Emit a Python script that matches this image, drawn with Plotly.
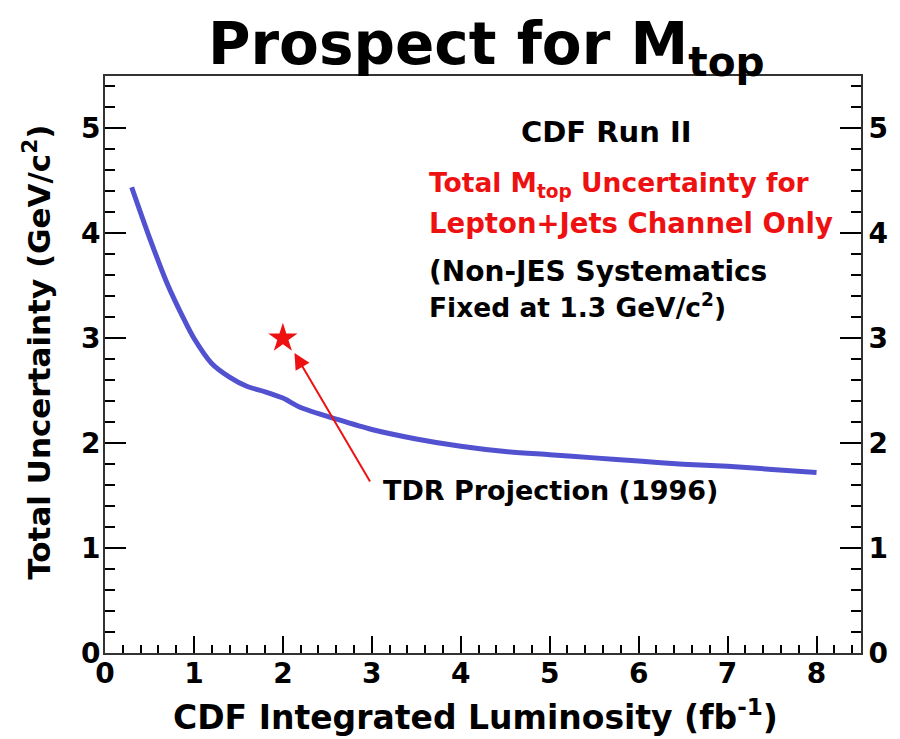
import plotly.graph_objects as go

# Projected total top-mass uncertainty vs. integrated luminosity
lumi = [0.3, 0.5, 0.7, 0.9, 1.0, 1.2, 1.4, 1.6, 1.8, 2.0, 2.2, 2.6, 3.0,
        3.5, 4.0, 4.5, 5.0, 5.5, 6.0, 6.5, 7.0, 7.5, 8.0]
uncert = [4.44, 3.96, 3.52, 3.16, 3.00, 2.76, 2.63, 2.54, 2.49, 2.43, 2.34,
          2.23, 2.13, 2.04, 1.97, 1.92, 1.89, 1.86, 1.83, 1.80, 1.78, 1.75, 1.72]

# TDR projection point (1996)
tdr_lumi = [2.0]
tdr_uncert = [3.0]

x_ticks = [0, 1, 2, 3, 4, 5, 6, 7, 8]
y_ticks = [0, 1, 2, 3, 4, 5]

FONT = "DejaVu Sans"
RED = "#ee1111"
tickfont = dict(family=FONT, size=28, color="black", weight="bold")

fig = go.Figure()

fig.add_trace(go.Scatter(
    x=lumi, y=uncert, mode="lines",
    line=dict(color="#5252d0", width=5, shape="spline", smoothing=0.8),
    showlegend=False, hoverinfo="skip",
))
fig.add_trace(go.Scatter(
    x=tdr_lumi, y=tdr_uncert, mode="markers",
    marker=dict(symbol="star", size=22, color=RED, line=dict(width=0)),
    showlegend=False, hoverinfo="skip",
))
# invisible trace to carry the right-hand axis
fig.add_trace(go.Scatter(
    x=[0], y=[0], yaxis="y2", mode="markers",
    marker=dict(opacity=0), showlegend=False, hoverinfo="skip",
))

annotations = [
    dict(text="<b>Prospect for M<sub>top</sub></b>", xref="paper", yref="paper",
         x=0.505, y=1.0, yanchor="bottom", xanchor="center", yshift=-12,
         showarrow=False, font=dict(family=FONT, size=58, color="black")),
    dict(text="<b>Total Uncertainty (GeV/c<sup>2</sup>)</b>", xref="paper", yref="paper",
         x=-0.09, y=0.522, textangle=-90, xanchor="center", yanchor="middle",
         showarrow=False, font=dict(family=FONT, size=31, color="black")),
    dict(text="<b>CDF Integrated Luminosity (fb<sup>-1</sup>)</b>", xref="paper", yref="paper",
         x=0.49, y=-0.108, xanchor="center", yanchor="middle",
         showarrow=False, font=dict(family=FONT, size=33, color="black")),
    dict(text="<b>CDF Run II</b>", xref="x", yref="y", x=5.64, y=4.97,
         xanchor="center", yanchor="middle", showarrow=False,
         font=dict(family=FONT, size=29, color="black")),
    dict(text="<b>Total M<sub>top</sub> Uncertainty for</b>", xref="x", yref="y",
         x=3.62, y=4.47, xanchor="left", yanchor="middle", showarrow=False,
         font=dict(family=FONT, size=26.5, color=RED)),
    dict(text="<b>Lepton+Jets Channel Only</b>", xref="x", yref="y",
         x=3.62, y=4.10, xanchor="left", yanchor="middle", showarrow=False,
         font=dict(family=FONT, size=27.5, color=RED)),
    dict(text="<b>(Non-JES Systematics</b>", xref="x", yref="y",
         x=3.62, y=3.64, xanchor="left", yanchor="middle", showarrow=False,
         font=dict(family=FONT, size=28, color="black")),
    dict(text="<b>Fixed at 1.3 GeV/c<sup>2</sup>)</b>", xref="x", yref="y",
         x=3.62, y=3.31, xanchor="left", yanchor="middle", showarrow=False,
         font=dict(family=FONT, size=26.5, color="black")),
    dict(text="<b>TDR Projection (1996)</b>", xref="x", yref="y",
         x=3.10, y=1.55, xanchor="left", yanchor="middle", showarrow=False,
         font=dict(family=FONT, size=27, color="black")),
    # arrow pointing to the TDR projection
    dict(text="", xref="x", yref="y", x=2.13, y=2.86, axref="x", ayref="y",
         ax=2.99, ay=1.62, showarrow=True, arrowhead=2, arrowsize=1.6,
         arrowwidth=2, arrowcolor=RED, standoff=0),
]

fig.update_layout(
    width=900, height=739,
    margin=dict(l=105, r=25, t=76, b=86),
    paper_bgcolor="white", plot_bgcolor="white",
    annotations=annotations,
    xaxis=dict(
        range=[0, 8.5], tickvals=x_ticks, ticktext=[str(v) for v in x_ticks],
        ticks="inside", ticklen=17, tickwidth=1.5, tickcolor="black",
        minor=dict(dtick=0.2, tick0=0, ticks="inside", ticklen=8,
                   tickwidth=1.5, tickcolor="black"),
        showline=True, linecolor="#333333", linewidth=2, mirror=True,
        showgrid=False, zeroline=False, tickfont=tickfont,
        ticklabelstandoff=-6,
    ),
    yaxis=dict(
        range=[0, 5.5], tickvals=y_ticks, ticktext=[str(v) for v in y_ticks],
        ticks="inside", ticklen=21, tickwidth=1.5, tickcolor="black",
        minor=dict(dtick=0.2, tick0=0, ticks="inside", ticklen=10,
                   tickwidth=1.5, tickcolor="black"),
        showline=True, linecolor="#333333", linewidth=2,
        showgrid=False, zeroline=False, tickfont=tickfont,
        ticklabelstandoff=-3,
    ),
    yaxis2=dict(
        range=[0, 5.5], overlaying="y", side="right",
        tickvals=y_ticks, ticktext=[str(v) for v in y_ticks],
        ticks="inside", ticklen=21, tickwidth=1.5, tickcolor="black",
        minor=dict(dtick=0.2, tick0=0, ticks="inside", ticklen=10,
                   tickwidth=1.5, tickcolor="black"),
        showline=True, linecolor="#333333", linewidth=2,
        showgrid=False, zeroline=False, tickfont=tickfont,
    ),
)

fig.write_html("out.html")
